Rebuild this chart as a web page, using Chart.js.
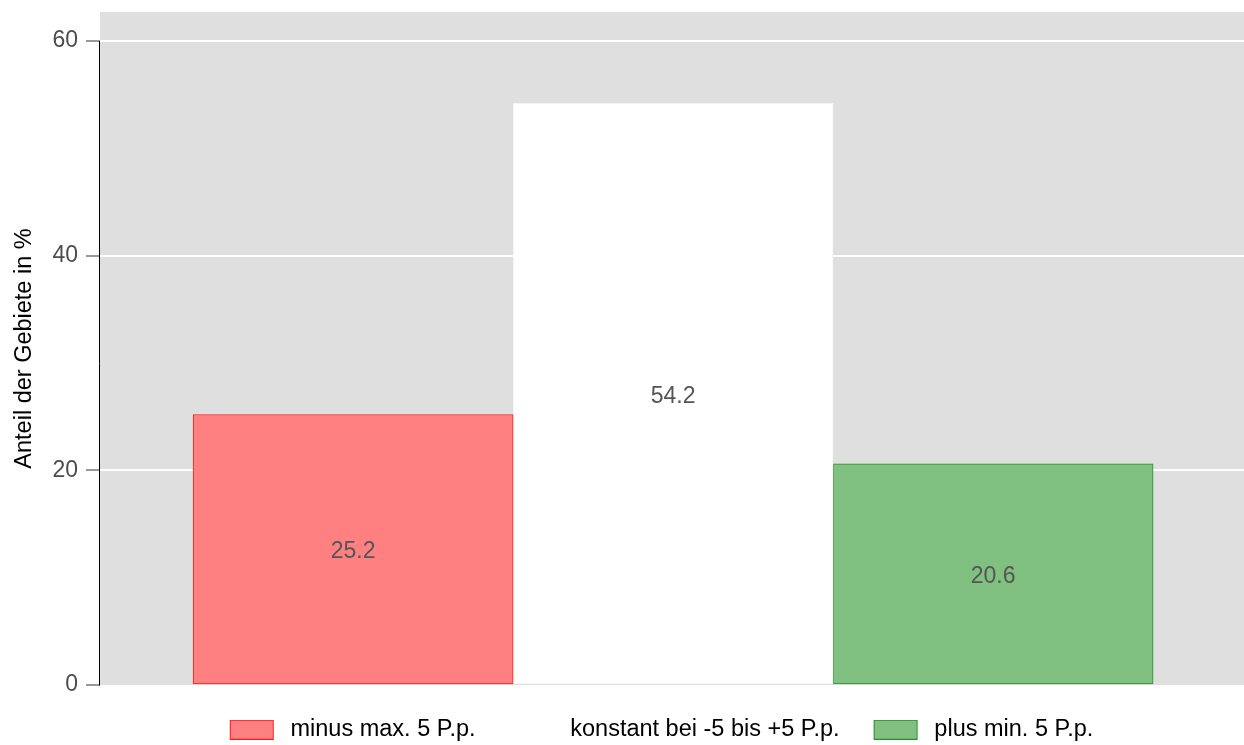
<!DOCTYPE html>
<html lang="de">
<head>
<meta charset="utf-8">
<title>Anteil der Gebiete</title>
<script src="https://cdn.jsdelivr.net/npm/chart.js@4/dist/chart.umd.min.js"></script>
<style>
  html, body { margin: 0; padding: 0; background: #ffffff; }
  #wrap { width: 1244px; height: 745px; position: relative; }
</style>
</head>
<body>
<div id="wrap"><canvas id="chart"></canvas></div>
<script>
// Categories, values and axis ticks
const categories = ['minus max. 5 P.p.', 'konstant bei -5 bis +5 P.p.', 'plus min. 5 P.p.'];
const shares = [25.2, 54.2, 20.6];
const barPositions = [1, 2, 3];
const yTicks = [0, 20, 40, 60];
const fillColors = ['#FF8080', '#FFFFFF', '#80C080'];
const borderColors = ['#FF1A1A', '#F3F3F3', '#2A8F2A'];
const legendBorders = ['#FF1A1A', '#FFFFFF', '#2A8F2A'];

const FONT = "'Liberation Sans', Arial, Helvetica, sans-serif";
Chart.defaults.font.family = FONT;

// grey panel behind the plot
const panelBackground = {
  id: 'panelBackground',
  beforeDraw(chart) {
    const { ctx, chartArea: a } = chart;
    ctx.save();
    ctx.fillStyle = '#DFDFDF';
    ctx.fillRect(a.left, a.top, a.right - a.left, a.bottom - a.top);
    ctx.restore();
  }
};

// y axis line spanning the tick range only
const axisLine = {
  id: 'axisLine',
  afterDraw(chart) {
    const { ctx, chartArea: a } = chart;
    const y = chart.scales.y;
    ctx.save();
    ctx.strokeStyle = '#000000';
    ctx.lineWidth = 1;
    ctx.beginPath();
    ctx.moveTo(a.left - 0.5, y.getPixelForValue(yTicks[yTicks.length - 1]));
    ctx.lineTo(a.left - 0.5, y.getPixelForValue(yTicks[0]) + 0.5);
    ctx.stroke();
    ctx.restore();
  }
};

// legend row sits slightly left of the panel centre
const legendNudge = {
  id: 'legendNudge',
  afterLayout(chart) {
    const lg = chart.legend;
    if (lg) {
      lg.left -= 11;
      lg.right -= 11;
    }
  }
};

// value written in the middle of each bar
const barValues = {
  id: 'barValues',
  afterDatasetsDraw(chart) {
    const { ctx } = chart;
    const size = 23;
    ctx.save();
    ctx.font = size + 'px ' + FONT;
    ctx.fillStyle = '#555555';
    ctx.textAlign = 'center';
    ctx.textBaseline = 'alphabetic';
    chart.data.datasets.forEach((ds, i) => {
      const meta = chart.getDatasetMeta(i);
      meta.data.forEach((el, j) => {
        const p = el.getProps(['x', 'y', 'base'], true);
        const mid = (p.y + p.base) / 2;
        ctx.fillText(ds.data[j].y.toFixed(1), p.x, mid + size * 0.716 / 2 + 1);
      });
    });
    ctx.restore();
  }
};

// legend key: 44x20 box inside a slightly wider swatch
function legendSwatch(fill, stroke) {
  const c = document.createElement('canvas');
  c.width = 50;
  c.height = 20;
  const g = c.getContext('2d');
  g.fillStyle = fill;
  g.fillRect(1, 0, 44, 20);
  g.strokeStyle = stroke;
  g.lineWidth = 1;
  g.strokeRect(1.5, 0.5, 43, 19);
  return c;
}

const datasets = categories.map((label, i) => ({
  label,
  data: [{ x: barPositions[i], y: shares[i] }],
  backgroundColor: fillColors[i],
  borderColor: borderColors[i],
  borderWidth: 1,
  borderSkipped: false,
  grouped: false,
  barPercentage: 1,
  categoryPercentage: 1
}));

new Chart(document.getElementById('chart'), {
  type: 'bar',
  data: { datasets },
  options: {
    responsive: true,
    maintainAspectRatio: false,
    animation: false,
    layout: { padding: { top: 12, left: 0, right: 0, bottom: 0 } },
    scales: {
      x: {
        type: 'linear',
        display: false,
        offset: false,
        min: 0.209,
        max: 3.784,
        afterBuildTicks(scale) {
          scale.ticks = barPositions.map(v => ({ value: v }));
        }
      },
      y: {
        min: 0,
        max: 62.7,
        afterBuildTicks(scale) {
          scale.ticks = yTicks.map(v => ({ value: v }));
        },
        afterFit(scale) {
          scale.width = 100;
          scale.paddingTop = 0;
          scale.paddingBottom = 0;
        },
        border: { display: false },
        grid: {
          color: ctx => (ctx.tick && ctx.tick.value === 0 ? 'rgba(0,0,0,0)' : '#FFFFFF'),
          lineWidth: 2,
          tickColor: '#333333',
          tickWidth: 1,
          tickLength: 14,
          drawTicks: true
        },
        ticks: {
          color: '#4D4D4D',
          padding: 8,
          font: { size: 23 },
          callback: v => String(v)
        },
        title: {
          display: true,
          text: 'Anteil der Gebiete in %',
          color: '#000000',
          font: { size: 23.5 },
          padding: { top: 10, bottom: 0 }
        }
      }
    },
    plugins: {
      tooltip: { enabled: false },
      legend: {
        position: 'bottom',
        fullSize: false,
        maxHeight: 60,
        labels: {
          color: '#000000',
          font: { size: 23.5 },
          usePointStyle: true,
          pointStyleWidth: 50,
          boxHeight: 20,
          padding: 33,
          generateLabels(chart) {
            const items = Chart.defaults.plugins.legend.labels.generateLabels(chart);
            items.forEach((it, i) => {
              it.pointStyle = legendSwatch(fillColors[i], legendBorders[i]);
            });
            return items;
          }
        }
      }
    }
  },
  plugins: [panelBackground, barValues, axisLine, legendNudge]
});
</script>
</body>
</html>
